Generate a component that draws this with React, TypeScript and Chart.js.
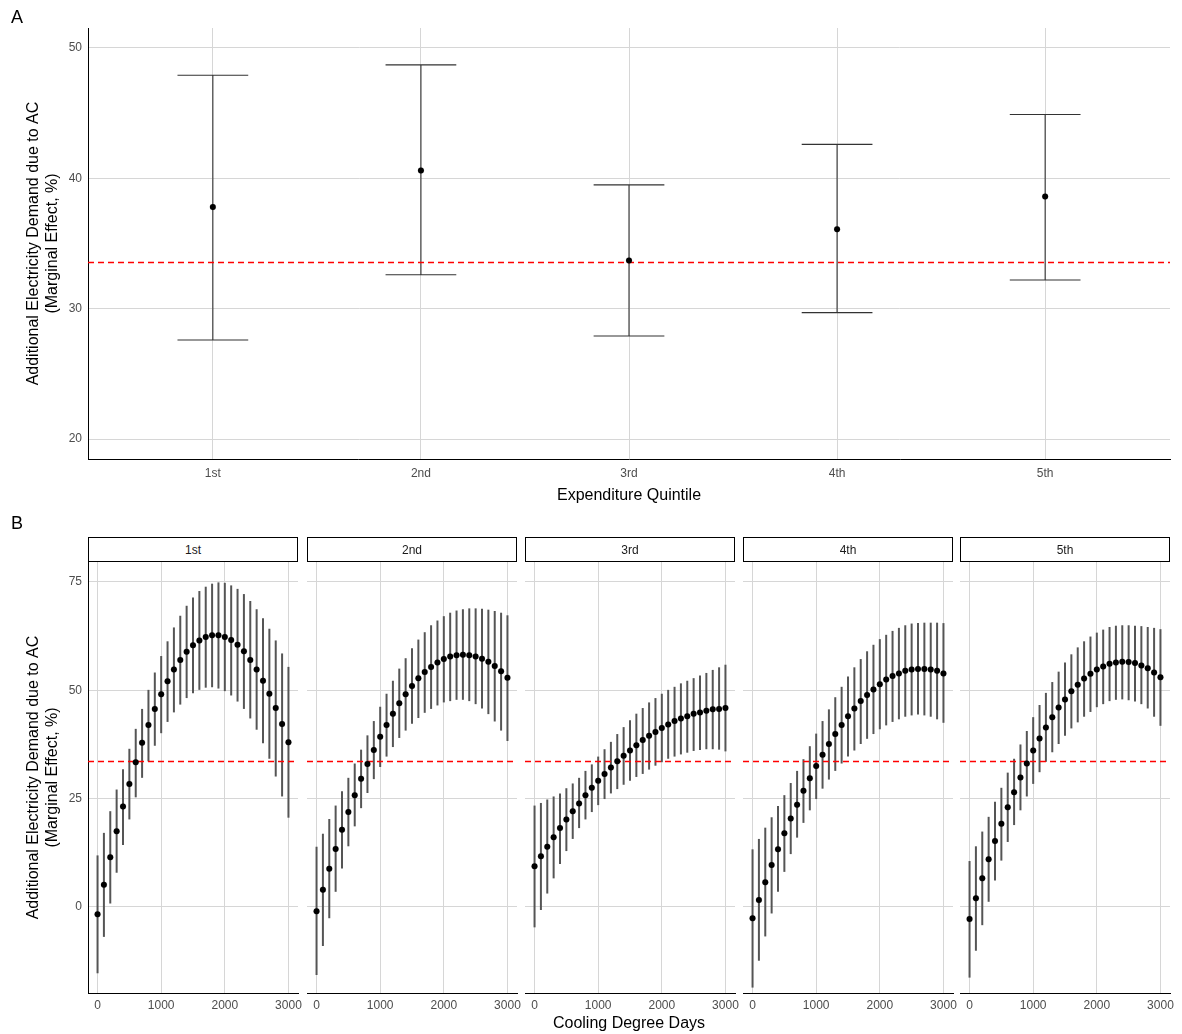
import React, { useEffect, useRef } from 'react';
import { Chart, registerables } from 'chart.js';

Chart.register(...registerables);

const FONT = '"Liberation Sans", Arial, sans-serif';
const REF_LINE = 33.6;

// Panel A
const quintiles = ['1st', '2nd', '3rd', '4th', '5th'];
const aMean = [37.8, 40.6, 33.7, 36.1, 38.6];
const aLow = [27.6, 32.6, 27.9, 29.7, 32.2];
const aHigh = [47.9, 48.7, 39.5, 42.6, 44.9];

// Panel B
const cdd = [0, 100, 200, 300, 400, 500, 600, 700, 800, 900, 1000, 1100, 1200, 1300, 1400, 1500,
  1600, 1700, 1800, 1900, 2000, 2100, 2200, 2300, 2400, 2500, 2600, 2700, 2800, 2900, 3000];

const q1Mean = [-1.7, 5.1, 11.5, 17.5, 23.2, 28.4, 33.4, 37.9, 42.0, 45.7, 49.1, 52.1, 54.8, 57.0, 58.9, 60.4,
  61.5, 62.3, 62.7, 62.7, 62.3, 61.6, 60.5, 59.0, 57.0, 54.8, 52.2, 49.2, 45.9, 42.2, 38.0];
const q1Low = [-15.3, -6.9, 0.8, 7.9, 14.3, 20.2, 25.3, 29.8, 33.6, 37.2, 40.1, 42.7, 44.9, 46.7, 48.2, 49.3,
  50.1, 50.6, 50.7, 50.4, 49.8, 48.8, 47.4, 45.7, 43.5, 40.9, 37.8, 34.2, 30.1, 25.5, 20.6];
const q1High = [11.9, 17.1, 22.1, 27.1, 31.8, 36.5, 41.1, 45.7, 50.1, 54.1, 57.9, 61.3, 64.5, 67.2, 69.5, 71.4,
  72.9, 73.9, 74.6, 74.9, 74.8, 74.2, 73.4, 72.2, 70.6, 68.7, 66.6, 64.2, 61.5, 58.5, 55.4];

const q2Mean = [-1.0, 4.0, 8.8, 13.4, 17.8, 21.9, 25.8, 29.6, 33.0, 36.2, 39.3, 42.0, 44.6, 47.0, 49.1, 51.0,
  52.8, 54.2, 55.4, 56.4, 57.2, 57.8, 58.1, 58.2, 58.1, 57.8, 57.3, 56.6, 55.6, 54.4, 52.9];
const q2Low = [-15.7, -9.0, -2.6, 3.5, 8.9, 14.0, 18.6, 22.8, 26.3, 29.5, 32.3, 34.7, 36.9, 39.0, 40.7, 42.3,
  43.6, 44.8, 45.7, 46.5, 47.2, 47.5, 47.8, 47.8, 47.5, 46.8, 45.8, 44.5, 42.8, 40.7, 38.3];
const q2High = [13.9, 16.9, 20.3, 23.4, 26.7, 29.8, 33.1, 36.3, 39.6, 42.9, 46.2, 49.2, 52.2, 55.0, 57.4, 59.7,
  61.7, 63.4, 65.0, 66.1, 67.1, 67.9, 68.4, 68.7, 68.9, 68.9, 68.8, 68.6, 68.3, 67.9, 67.3];

const q3Mean = [9.4, 11.7, 13.9, 16.1, 18.2, 20.2, 22.1, 23.9, 25.8, 27.5, 29.1, 30.7, 32.2, 33.6, 34.9, 36.1,
  37.3, 38.5, 39.5, 40.4, 41.3, 42.1, 42.9, 43.5, 44.0, 44.6, 44.9, 45.3, 45.6, 45.7, 45.9];
const q3Low = [-4.7, -0.7, 3.1, 6.6, 9.9, 12.9, 15.7, 18.2, 20.2, 21.9, 23.5, 24.9, 26.2, 27.2, 28.2, 29.1,
  30.0, 30.7, 31.7, 32.6, 33.4, 34.2, 34.7, 35.2, 35.6, 36.0, 36.2, 36.4, 36.4, 36.3, 35.9];
const q3High = [23.4, 24.0, 24.8, 25.5, 26.2, 27.4, 28.5, 29.8, 31.4, 32.9, 34.7, 36.4, 38.1, 39.9, 41.5, 43.1,
  44.6, 45.9, 47.2, 48.2, 49.2, 50.1, 50.8, 51.6, 52.2, 52.8, 53.4, 54.0, 54.7, 55.3, 55.9];

const q4Mean = [-2.6, 1.6, 5.7, 9.7, 13.3, 17.0, 20.4, 23.6, 26.8, 29.7, 32.5, 35.1, 37.6, 39.9, 42.0, 44.0,
  45.8, 47.5, 48.9, 50.2, 51.4, 52.5, 53.3, 53.9, 54.5, 54.8, 54.9, 54.9, 54.8, 54.5, 53.9];
const q4Low = [-18.6, -12.4, -6.8, -1.5, 3.5, 8.1, 12.2, 16.0, 19.4, 22.3, 24.9, 27.3, 29.4, 31.4, 33.1, 34.7,
  36.1, 37.6, 38.8, 39.9, 41.0, 41.9, 42.7, 43.3, 43.9, 44.2, 44.4, 44.2, 43.9, 43.3, 42.5];
const q4High = [13.3, 15.7, 18.3, 20.7, 23.3, 25.8, 28.6, 31.4, 34.1, 37.1, 40.0, 42.9, 45.6, 48.4, 50.8, 53.2,
  55.3, 57.2, 59.0, 60.5, 61.8, 62.8, 63.7, 64.4, 65.0, 65.4, 65.5, 65.6, 65.6, 65.6, 65.5];

const q5Mean = [-2.8, 2.0, 6.6, 11.0, 15.2, 19.2, 23.0, 26.5, 29.9, 33.1, 36.1, 38.9, 41.4, 43.8, 46.0, 47.9,
  49.8, 51.3, 52.7, 53.8, 54.8, 55.5, 56.1, 56.4, 56.6, 56.5, 56.3, 55.7, 55.1, 54.1, 53.0];
const q5Low = [-16.3, -10.1, -4.2, 1.2, 6.1, 10.7, 15.0, 18.9, 22.3, 25.5, 28.4, 31.1, 33.5, 35.7, 37.6, 39.5,
  41.2, 42.6, 43.9, 45.0, 46.1, 46.8, 47.5, 47.8, 47.9, 47.7, 47.4, 46.8, 45.8, 43.9, 41.8];
const q5High = [10.6, 14.0, 17.4, 20.8, 24.3, 27.5, 31.0, 34.2, 37.5, 40.6, 43.8, 46.6, 49.4, 51.9, 54.3, 56.4,
  58.3, 59.9, 61.3, 62.4, 63.3, 64.0, 64.6, 64.9, 65.0, 65.0, 64.9, 64.8, 64.6, 64.4, 64.1];

const facets = [
  { label: '1st', mean: q1Mean, low: q1Low, high: q1High, left: 88 },
  { label: '2nd', mean: q2Mean, low: q2Low, high: q2High, left: 307 },
  { label: '3rd', mean: q3Mean, low: q3Low, high: q3High, left: 525 },
  { label: '4th', mean: q4Mean, low: q4Low, high: q4High, left: 743 },
  { label: '5th', mean: q5Mean, low: q5Low, high: q5High, left: 960 },
];
const FACET_W = 210;

const errorPlugin = {
  id: 'errorbars',
  beforeDatasetsDraw(chart: any, _args: any, opts: any) {
    const { ctx, scales, chartArea } = chart;
    const xs = scales.x;
    const ys = scales.y;
    ctx.save();
    ctx.strokeStyle = opts.color;
    ctx.lineWidth = opts.width;
    opts.xs.forEach((xv: number, i: number) => {
      const px = xs.getPixelForValue(xv);
      const p1 = ys.getPixelForValue(opts.low[i]);
      const p2 = ys.getPixelForValue(opts.high[i]);
      ctx.beginPath();
      ctx.moveTo(px, p1);
      ctx.lineTo(px, p2);
      if (opts.cap) {
        const c = Math.abs(xs.getPixelForValue(xv + opts.cap) - px);
        ctx.moveTo(px - c, p1);
        ctx.lineTo(px + c, p1);
        ctx.moveTo(px - c, p2);
        ctx.lineTo(px + c, p2);
      }
      ctx.stroke();
    });
    // reference line
    ctx.strokeStyle = '#ff0000';
    ctx.lineWidth = 1.5;
    ctx.setLineDash([6, 4]);
    const ry = Math.round(ys.getPixelForValue(REF_LINE)) + 0.5;
    ctx.beginPath();
    ctx.moveTo(chartArea.left, ry);
    ctx.lineTo(chartArea.right, ry);
    ctx.stroke();
    ctx.restore();
  },
};

const tickFont = { family: FONT, size: 12 };
const titleFont = { family: FONT, size: 16 };
const GRID = '#d6d6d6';

const PanelA: React.FC = () => {
  const ref = useRef<HTMLCanvasElement>(null);
  useEffect(() => {
    const xs = [1, 2, 3, 4, 5];
    const chart = new Chart(ref.current!, {
      type: 'scatter',
      data: { datasets: [{ data: xs.map((x, i) => ({ x, y: aMean[i] })), backgroundColor: '#000', pointRadius: 3, pointHoverRadius: 3 }] },
      plugins: [errorPlugin],
      options: {
        animation: false,
        responsive: false,
        layout: { padding: { left: 0, right: 12, top: 28, bottom: 0 } },
        plugins: {
          legend: { display: false },
          tooltip: { enabled: false },
          errorbars: { xs, low: aLow, high: aHigh, cap: 0.17, color: '#333', width: 1.1 },
        } as any,
        scales: {
          x: {
            type: 'linear', min: 0.4, max: 5.6,
            afterBuildTicks: (s: any) => { s.ticks = xs.map((v) => ({ value: v })); },
            afterFit: (s: any) => { s.height = 46; },
            ticks: { font: tickFont, color: '#4d4d4d', callback: (v: any) => quintiles[Number(v) - 1], maxRotation: 0, padding: 7 },
            grid: { color: GRID, drawTicks: false },
            border: { display: true, color: '#000', width: 1 },
            title: { display: true, text: 'Expenditure Quintile', font: titleFont, color: '#000', padding: { top: 0, bottom: 0 } },
          },
          y: {
            min: 18.47, max: 51.53,
            afterBuildTicks: (s: any) => { s.ticks = [20, 30, 40, 50].map((v) => ({ value: v })); },
            afterFit: (s: any) => { s.width = 88; },
            ticks: { font: tickFont, color: '#4d4d4d', padding: 6 },
            grid: { color: GRID, drawTicks: false },
            border: { display: true, color: '#000', width: 1 },
            title: { display: true, text: ['Additional Electricity Demand due to AC', '(Marginal Effect, %)'], font: titleFont, color: '#000', padding: { top: 24, bottom: 0 } },
          },
        },
      },
    });
    return () => chart.destroy();
  }, []);
  return <canvas ref={ref} width={1182} height={505} style={{ position: 'absolute', left: 0, top: 0 }} />;
};

const PAD = 20;
const TOP_PAD = 14;

const Facet: React.FC<{ idx: number }> = ({ idx }) => {
  const ref = useRef<HTMLCanvasElement>(null);
  const f = facets[idx];
  const first = idx === 0;
  const canvasLeft = first ? 0 : f.left - PAD;
  const width = first ? f.left + FACET_W + PAD : FACET_W + 2 * PAD;
  useEffect(() => {
    const chart = new Chart(ref.current!, {
      type: 'scatter',
      data: { datasets: [{ data: cdd.map((x, i) => ({ x, y: f.mean[i] })), backgroundColor: '#000', pointRadius: 3, pointHoverRadius: 3 }] },
      plugins: [errorPlugin],
      options: {
        animation: false,
        responsive: false,
        layout: { padding: { left: first ? 0 : PAD, right: PAD, top: TOP_PAD, bottom: 0 } },
        plugins: {
          legend: { display: false },
          tooltip: { enabled: false },
          errorbars: { xs: cdd, low: f.low, high: f.high, cap: 0, color: '#555', width: 2 },
        } as any,
        scales: {
          x: {
            type: 'linear', min: -150, max: 3150,
            afterBuildTicks: (s: any) => { s.ticks = [0, 1000, 2000, 3000].map((v) => ({ value: v })); },
            afterFit: (s: any) => { s.height = 41; },
            ticks: { font: tickFont, color: '#4d4d4d', maxRotation: 0, padding: 5, callback: (v: any) => String(v) },
            grid: { color: GRID, drawTicks: false },
            border: { display: true, color: '#000', width: 1 },
          },
          y: {
            min: -19.85, max: 79.6,
            afterBuildTicks: (s: any) => { s.ticks = [0, 25, 50, 75].map((v) => ({ value: v })); },
            afterFit: (s: any) => { s.width = first ? 88 : 0; },
            ticks: { display: first, font: tickFont, color: '#4d4d4d', padding: 6 },
            grid: { color: GRID, drawTicks: false },
            border: { display: first, color: '#000', width: 1 },
            title: { display: first, text: ['Additional Electricity Demand due to AC', '(Marginal Effect, %)'], font: titleFont, color: '#000', padding: { top: 24, bottom: 0 } },
          },
        },
      },
    });
    return () => chart.destroy();
  }, []);
  return (
    <>
      <div style={{ position: 'absolute', left: f.left, top: 537, width: FACET_W - 2, height: 23, border: '1.3px solid #000', fontFamily: FONT, fontSize: 12, color: '#1a1a1a', display: 'flex', alignItems: 'center', justifyContent: 'center' }}>{f.label}</div>
      <canvas ref={ref} width={width} height={472 + TOP_PAD} style={{ position: 'absolute', left: canvasLeft, top: 562 - TOP_PAD }} />
    </>
  );
};

const App: React.FC = () => (
  <div style={{ position: 'fixed', left: 0, top: 0, width: 1182, height: 1034, background: '#fff', overflow: 'hidden' }}>
    <PanelA />
    {facets.map((_, i) => <Facet key={i} idx={i} />)}
    <div style={{ position: 'absolute', left: 11, top: 7, fontFamily: FONT, fontSize: 18 }}>A</div>
    <div style={{ position: 'absolute', left: 11, top: 513, fontFamily: FONT, fontSize: 18 }}>B</div>
    <div style={{ position: 'absolute', left: 88, width: 1082, top: 1014, textAlign: 'center', fontFamily: FONT, fontSize: 16 }}>Cooling Degree Days</div>
  </div>
);

export default App;
